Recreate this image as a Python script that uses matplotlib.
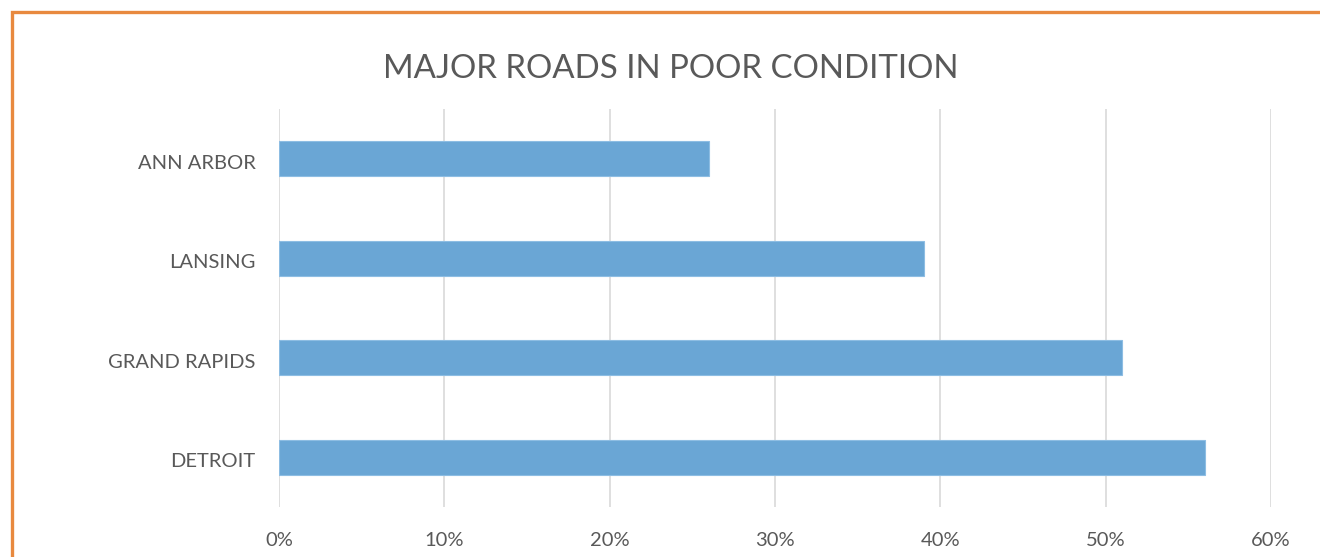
import matplotlib.pyplot as plt
import matplotlib.transforms as mtransforms
from matplotlib.patches import Rectangle
from matplotlib.ticker import FuncFormatter

cities = ['DETROIT', 'GRAND RAPIDS', 'LANSING', 'ANN ARBOR']
poor_share = [0.56, 0.51, 0.39, 0.26]
x_ticks = [0, 0.1, 0.2, 0.3, 0.4, 0.5, 0.6]

plt.rcParams['font.family'] = ['Lato', 'DejaVu Sans']
text_grey = '#595959'

fig = plt.figure(figsize=(13.2, 5.57), dpi=100)
ax = fig.add_axes([279/1320, 1 - 507/557, (1271 - 279)/1320, (507 - 109)/557])

ax.barh(cities, poor_share, height=0.35, color='#6aa6d5', edgecolor='#8dbde3', linewidth=0.8, zorder=3)

ax.set_xlim(0, 0.6)
ax.set_ylim(-0.5, 3.5)
ax.set_xticks(x_ticks)
ax.xaxis.set_major_formatter(FuncFormatter(lambda v, p: f'{v*100:.0f}%'))
ax.grid(axis='x', color='#d9d9d9', linewidth=1.2, zorder=0)
for s in ax.spines.values():
    s.set_visible(False)
ax.tick_params(length=0, labelsize=14.5, labelcolor=text_grey)
ax.tick_params(axis='x', pad=18)
ax.tick_params(axis='y', pad=17)
shift = mtransforms.ScaledTranslation(0, -3/100, fig.dpi_scale_trans)
for lbl in ax.get_yticklabels():
    lbl.set_transform(lbl.get_transform() + shift)

fig.text(671/1320, 1 - 69/557, 'MAJOR ROADS IN POOR CONDITION', ha='center', va='center',
         fontsize=23.8, color=text_grey)

# orange chart frame, cut off at right and bottom
fig.patches.append(Rectangle((12/1320, -0.1), 1.2, 1 - 12/557 + 0.1, transform=fig.transFigure,
                             fill=False, edgecolor='#e8893f', linewidth=2.4))

fig.savefig('out.png', dpi=100)
